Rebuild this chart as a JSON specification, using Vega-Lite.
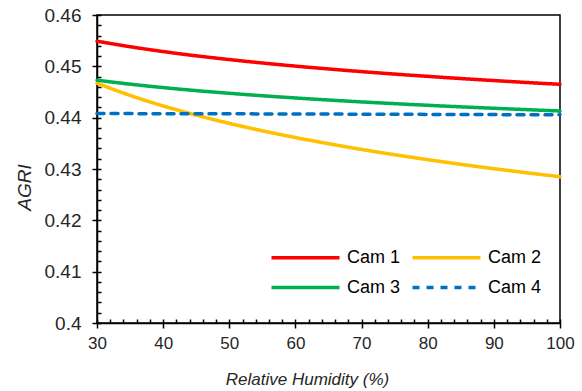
{
  "$schema": "https://vega.github.io/schema/vega-lite/v6.json",
  "width": 463,
  "height": 308,
  "autosize": "none",
  "padding": {"left": 97, "top": 15, "right": 22, "bottom": 68},
  "config": {
    "font": "Liberation Sans",
    "view": {"stroke": "#000000", "strokeWidth": 1.5},
    "axis": {"grid": false, "domainColor": "#000000", "tickColor": "#000000", "domainWidth": 1.5, "tickWidth": 1.5, "labelColor": "#262626", "titleColor": "#262626", "labelFontSize": 17, "titleFontSize": 17, "titleFontWeight": "normal", "titleFontStyle": "italic", "labelFont": "Liberation Sans", "titleFont": "Liberation Sans"}
  },
  "data": {"values": [
    {"cam": "Cam 1", "rh": 30, "agri": 0.4549}, {"cam": "Cam 1", "rh": 35, "agri": 0.45382}, {"cam": "Cam 1", "rh": 40, "agri": 0.45288}, {"cam": "Cam 1", "rh": 45, "agri": 0.45205}, {"cam": "Cam 1", "rh": 50, "agri": 0.45132}, {"cam": "Cam 1", "rh": 55, "agri": 0.45065}, {"cam": "Cam 1", "rh": 60, "agri": 0.45004}, {"cam": "Cam 1", "rh": 65, "agri": 0.44949}, {"cam": "Cam 1", "rh": 70, "agri": 0.44897}, {"cam": "Cam 1", "rh": 75, "agri": 0.44849}, {"cam": "Cam 1", "rh": 80, "agri": 0.44805}, {"cam": "Cam 1", "rh": 85, "agri": 0.44762}, {"cam": "Cam 1", "rh": 90, "agri": 0.44723}, {"cam": "Cam 1", "rh": 95, "agri": 0.44685}, {"cam": "Cam 1", "rh": 100, "agri": 0.4465},
    {"cam": "Cam 2", "rh": 30, "agri": 0.4467}, {"cam": "Cam 2", "rh": 35, "agri": 0.44433}, {"cam": "Cam 2", "rh": 40, "agri": 0.44228}, {"cam": "Cam 2", "rh": 45, "agri": 0.44049}, {"cam": "Cam 2", "rh": 50, "agri": 0.43889}, {"cam": "Cam 2", "rh": 55, "agri": 0.43744}, {"cam": "Cam 2", "rh": 60, "agri": 0.43613}, {"cam": "Cam 2", "rh": 65, "agri": 0.43493}, {"cam": "Cam 2", "rh": 70, "agri": 0.43381}, {"cam": "Cam 2", "rh": 75, "agri": 0.43278}, {"cam": "Cam 2", "rh": 80, "agri": 0.43182}, {"cam": "Cam 2", "rh": 85, "agri": 0.43091}, {"cam": "Cam 2", "rh": 90, "agri": 0.43006}, {"cam": "Cam 2", "rh": 95, "agri": 0.42926}, {"cam": "Cam 2", "rh": 100, "agri": 0.4285},
    {"cam": "Cam 3", "rh": 30, "agri": 0.4473}, {"cam": "Cam 3", "rh": 35, "agri": 0.44653}, {"cam": "Cam 3", "rh": 40, "agri": 0.44586}, {"cam": "Cam 3", "rh": 45, "agri": 0.44527}, {"cam": "Cam 3", "rh": 50, "agri": 0.44475}, {"cam": "Cam 3", "rh": 55, "agri": 0.44427}, {"cam": "Cam 3", "rh": 60, "agri": 0.44384}, {"cam": "Cam 3", "rh": 65, "agri": 0.44344}, {"cam": "Cam 3", "rh": 70, "agri": 0.44307}, {"cam": "Cam 3", "rh": 75, "agri": 0.44273}, {"cam": "Cam 3", "rh": 80, "agri": 0.44241}, {"cam": "Cam 3", "rh": 85, "agri": 0.44211}, {"cam": "Cam 3", "rh": 90, "agri": 0.44183}, {"cam": "Cam 3", "rh": 95, "agri": 0.44156}, {"cam": "Cam 3", "rh": 100, "agri": 0.4413},
    {"cam": "Cam 4", "rh": 30, "agri": 0.4408}, {"cam": "Cam 4", "rh": 50, "agri": 0.44075}, {"cam": "Cam 4", "rh": 70, "agri": 0.44068}, {"cam": "Cam 4", "rh": 100, "agri": 0.44055}
  ]},
  "resolve": {"axis": {"x": "independent", "y": "independent"}},
  "layer": [
    {
      "mark": {"type": "line", "strokeWidth": 3.5, "interpolate": "monotone", "strokeCap": "round"},
      "encoding": {
        "x": {"field": "rh", "type": "quantitative", "scale": {"domain": [30, 100], "nice": false},
          "axis": {"orient": "bottom", "values": [30, 40, 50, 60, 70, 80, 90, 100], "tickSize": 5, "labelPadding": 7, "title": "Relative Humidity (%)", "titleX": 210, "titleY": 61, "titleBaseline": "alphabetic", "labelFlush": false}},
        "y": {"field": "agri", "type": "quantitative", "scale": {"domain": [0.4, 0.46], "zero": false, "nice": false},
          "axis": {"orient": "left", "values": [0.4, 0.41, 0.42, 0.43, 0.44, 0.45, 0.46], "format": "~g", "tickSize": 5, "labelPadding": 11, "labelFontSize": 19, "title": "AGRI", "titleFontSize": 19, "titleX": -73, "titleY": 172, "titleBaseline": "middle", "labelFlush": false}},
        "color": {"field": "cam", "type": "nominal",
          "scale": {"domain": ["Cam 1", "Cam 2", "Cam 3", "Cam 4"], "range": ["#FF0000", "#FFC000", "#00B050", "#0070C0"]},
          "legend": {"title": null, "orient": "none", "legendX": 198, "legendY": 232, "columns": 2, "direction": "horizontal", "symbolType": "M-4,0H4", "symbolSize": 289, "symbolStrokeWidth": 3.5, "labelFontSize": 18, "labelColor": "#000000", "labelOffset": 31, "columnPadding": 4, "rowPadding": 10}},
        "strokeDash": {"field": "cam", "type": "nominal",
          "scale": {"domain": ["Cam 1", "Cam 2", "Cam 3", "Cam 4"], "range": [[1, 0], [1, 0], [1, 0], [7, 7]]},
          "legend": {"title": null, "orient": "none", "legendX": 198, "legendY": 232, "columns": 2, "direction": "horizontal", "symbolType": "M-4,0H4", "symbolSize": 289, "symbolStrokeWidth": 3.5, "labelFontSize": 18, "labelColor": "#000000", "labelOffset": 31, "columnPadding": 4, "rowPadding": 10}}
      }
    },
    {
      "mark": {"type": "line", "opacity": 0},
      "encoding": {
        "x": {"field": "rh", "type": "quantitative", "scale": {"domain": [30, 100], "nice": false},
          "axis": {"orient": "bottom", "values": [30, 32, 34, 36, 38, 40, 42, 44, 46, 48, 50, 52, 54, 56, 58, 60, 62, 64, 66, 68, 70, 72, 74, 76, 78, 80, 82, 84, 86, 88, 90, 92, 94, 96, 98, 100], "tickSize": -4, "labels": false, "domain": false, "title": null}},
        "y": {"field": "agri", "type": "quantitative", "scale": {"domain": [0.4, 0.46], "zero": false, "nice": false},
          "axis": {"orient": "left", "values": [0.4, 0.402, 0.404, 0.406, 0.408, 0.41, 0.412, 0.414, 0.416, 0.418, 0.42, 0.422, 0.424, 0.426, 0.428, 0.43, 0.432, 0.434, 0.436, 0.438, 0.44, 0.442, 0.444, 0.446, 0.448, 0.45, 0.452, 0.454, 0.456, 0.458, 0.46], "tickSize": -4, "labels": false, "domain": false, "title": null}},
        "detail": {"field": "cam"}
      }
    }
  ]
}
